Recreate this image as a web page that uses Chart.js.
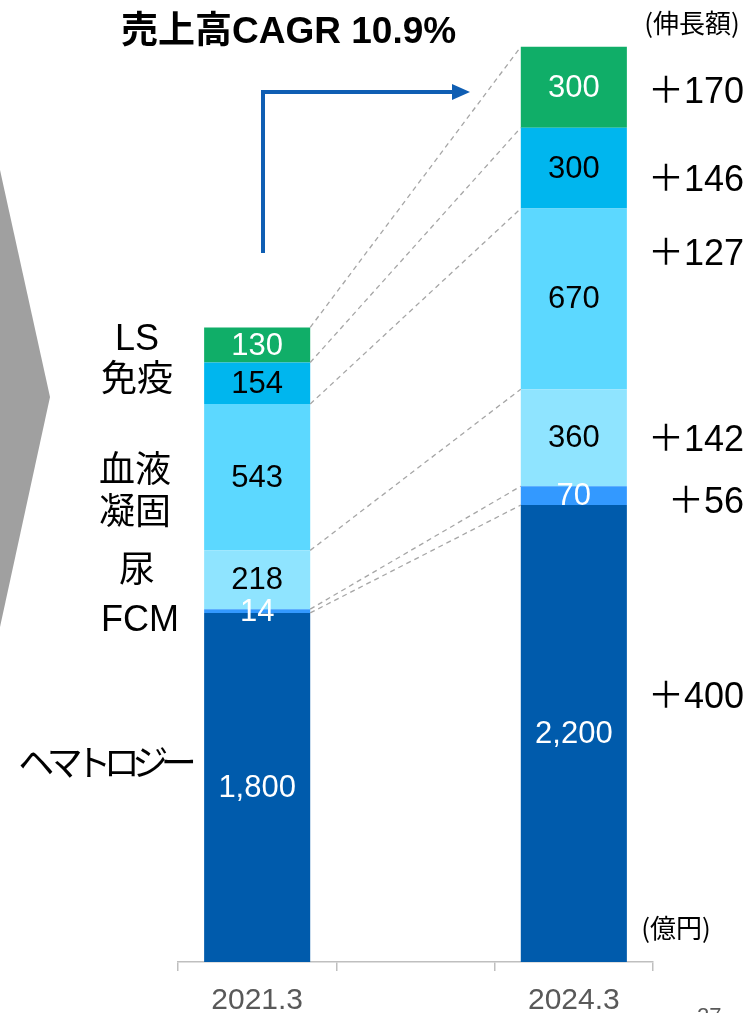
<!DOCTYPE html>
<html>
<head>
<meta charset="utf-8">
<script src="https://cdn.jsdelivr.net/npm/chart.js@4/dist/chart.umd.min.js"></script>
<style>
  html, body { margin: 0; padding: 0; background: #ffffff; }
  #wrap { width: 748px; height: 1013px; position: relative; overflow: hidden; }
</style>
</head>
<body>
<div id="wrap"><canvas id="c" width="748" height="1013"></canvas></div>
<script>
// Sales by business (億円), fiscal years ending March; the middle slot is a spacer
const categories = ['2021.3', '', '2024.3'];
const hematology  = [1800, null, 2200];
const fcm         = [14,   null, 70];
const urine       = [218,  null, 360];
const coagulation = [543,  null, 670];
const immunology  = [154,  null, 300];
const lifeScience = [130,  null, 300];

const seriesNames  = ['ヘマトロジー', 'FCM', '尿', '血液凝固', '免疫', 'LS'];
const seriesColors = ['#005BAC', '#3399FF', '#8FE4FF', '#5CD8FF', '#00B6EE', '#10AE68'];
const valueColors  = ['#ffffff', '#ffffff', '#000000', '#000000', '#000000', '#ffffff'];
const titleText = '売上高CAGR 10.9%';

const LATIN = "'Liberation Sans', Arial, 'Noto Sans CJK JP', sans-serif";
const CJK = "'Noto Sans CJK JP', 'Liberation Sans', sans-serif";

const seriesValues = [hematology, fcm, urine, coagulation, immunology, lifeScience];

// Left-hand category names (lines, centre x, centre y of each line)
const nameLayout = [
  { lines: ['ヘマトロジー'], x: 100, y: [766], spacing: -7.5 },
  { lines: ['FCM'], x: 140, y: [621] },
  { lines: ['尿'], x: 137, y: [572] },
  { lines: ['血液', '凝固'], x: 135, y: [472, 514] },
  { lines: ['免疫'], x: 137, y: [381] },
  { lines: ['LS'], x: 137, y: [340] }
];
// Right-hand growth labels: vertical centre per series
const growthY = [698, 503, 441, 255, 181, 93];

const decor = {
  id: 'decor',
  beforeDatasetsDraw(chart) {
    const ctx = chart.ctx;
    ctx.save();
    // grey chevron on the left edge
    ctx.fillStyle = '#A0A0A0';
    ctx.beginPath();
    ctx.moveTo(0, 170);
    ctx.lineTo(50, 397);
    ctx.lineTo(0, 627);
    ctx.closePath();
    ctx.fill();
    ctx.restore();
  },
  afterDatasetsDraw(chart) {
    const ctx = chart.ctx;
    const area = chart.chartArea;
    ctx.save();

    // dashed connectors between the tops of matching segments
    ctx.strokeStyle = '#A6A6A6';
    ctx.lineWidth = 1.3;
    ctx.setLineDash([5, 4]);
    seriesValues.forEach((vals, k) => {
      const meta = chart.getDatasetMeta(k);
      const a = meta.data[0], b = meta.data[2];
      ctx.beginPath();
      ctx.moveTo(a.x + a.width / 2, a.y);
      ctx.lineTo(b.x - b.width / 2, b.y);
      ctx.stroke();
    });
    ctx.setLineDash([]);

    // value labels centred in the visible part of each segment
    ctx.textAlign = 'center';
    ctx.textBaseline = 'middle';
    ctx.font = '31px ' + LATIN;
    seriesValues.forEach((vals, k) => {
      const meta = chart.getDatasetMeta(k);
      [0, 2].forEach(j => {
        const el = meta.data[j];
        const top = Math.max(Math.min(el.y, el.base), area.top);
        const bottom = Math.min(Math.max(el.y, el.base), area.bottom);
        ctx.fillStyle = valueColors[k];
        ctx.fillText(vals[j].toLocaleString('en-US'), el.x, (top + bottom) / 2 + 1);
      });
    });
    ctx.restore();
  },
  afterDraw(chart) {
    const ctx = chart.ctx;
    ctx.save();

    // title
    ctx.fillStyle = '#000000';
    ctx.textAlign = 'left';
    ctx.textBaseline = 'alphabetic';
    ctx.font = 'bold 37px ' + LATIN;
    ctx.fillText(titleText, 121, 43);

    // blue elbow arrow
    ctx.strokeStyle = '#0F5EB3';
    ctx.fillStyle = '#0F5EB3';
    ctx.lineWidth = 4;
    ctx.beginPath();
    ctx.moveTo(263, 253);
    ctx.lineTo(263, 92);
    ctx.lineTo(454, 92);
    ctx.stroke();
    ctx.beginPath();
    ctx.moveTo(452, 84);
    ctx.lineTo(470, 92);
    ctx.lineTo(452, 100);
    ctx.closePath();
    ctx.fill();

    // category names
    ctx.fillStyle = '#000000';
    ctx.textAlign = 'center';
    ctx.textBaseline = 'middle';
    ctx.font = '36px ' + LATIN;
    nameLayout.forEach(n => {
      ctx.letterSpacing = (n.spacing || 0) + 'px';
      n.lines.forEach((t, i) => ctx.fillText(t, n.x + (n.spacing ? -n.spacing / 2 : 0), n.y[i]));
    });
    ctx.letterSpacing = '0px';

    // growth amounts
    ctx.textAlign = 'right';
    ctx.font = '36px ' + LATIN;
    seriesValues.forEach((vals, k) => {
      ctx.fillText('＋' + (vals[2] - vals[0]), 744, growthY[k]);
    });

    // unit notes
    ctx.font = '26px ' + CJK;
    ctx.textAlign = 'center';
    ctx.fillText('(伸長額)', 692, 23);
    ctx.fillText('(億円)', 676, 928);

    // page number, partly below the page edge
    ctx.fillStyle = '#595959';
    ctx.textAlign = 'left';
    ctx.textBaseline = 'top';
    ctx.font = '22px ' + LATIN;
    ctx.fillText('27', 697, 1006);
    ctx.restore();
  }
};

new Chart(document.getElementById('c'), {
  type: 'bar',
  data: {
    labels: categories,
    datasets: seriesValues.map((vals, k) => ({
      label: seriesNames[k],
      data: vals,
      backgroundColor: seriesColors[k],
      borderWidth: 0,
      barPercentage: 1,
      categoryPercentage: 0.67,
      clip: 0
    }))
  },
  options: {
    responsive: false,
    animation: false,
    events: [],
    layout: { padding: { left: 178, right: 95, top: 32, bottom: 0 } },
    plugins: { legend: { display: false }, tooltip: { enabled: false } },
    scales: {
      x: {
        stacked: true,
        grid: { offset: true, drawOnChartArea: false, drawTicks: true, tickLength: 9, color: '#BFBFBF', lineWidth: 1.5 },
        border: { display: true, color: '#BFBFBF', width: 1.5 },
        ticks: { color: '#595959', font: { family: LATIN, size: 30 }, padding: 12 },
        afterFit(scale) { scale.height = 51; }
      },
      y: { stacked: true, display: false, min: 505, max: 3955 }
    }
  },
  plugins: [decor]
});
</script>
</body>
</html>
